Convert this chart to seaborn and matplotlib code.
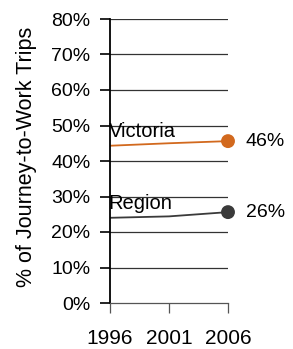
import matplotlib
matplotlib.use("Agg")
import matplotlib.pyplot as plt
import seaborn as sns
import pandas as pd

years = [1996, 2001, 2006]
victoria = [44.3, 45.0, 45.6]
region = [24.0, 24.4, 25.6]
end_labels = ["46%", "26%"]
series_names = ["Victoria", "Region"]
colors = ["#d2691e", "#3a3a3a"]
yticks = [0, 10, 20, 30, 40, 50, 60, 70, 80]

df = pd.DataFrame({"Year": years * 2,
                   "Share": victoria + region,
                   "Series": ["Victoria"] * 3 + ["Region"] * 3})

sns.set_style("white")
plt.rcParams["font.family"] = ["Liberation Sans", "DejaVu Sans"]
plt.rcParams["text.color"] = "black"
plt.rcParams["axes.labelcolor"] = "black"
plt.rcParams["xtick.color"] = "black"
plt.rcParams["ytick.color"] = "black"

fig = plt.figure(figsize=(2.93, 3.49), dpi=100)
ax = fig.add_axes([110 / 293, 1 - 303 / 349, 118 / 293, 284 / 349])

for y in yticks[1:]:
    ax.axhline(y, color="#333333", lw=0.9, zorder=0)

sns.lineplot(data=df, x="Year", y="Share", hue="Series", palette=colors,
             hue_order=series_names, lw=1.3, legend=False, ax=ax)

last = df[df["Year"] == years[-1]]
sns.scatterplot(data=last, x="Year", y="Share", hue="Series", palette=colors,
                hue_order=series_names, s=100, edgecolor="none", legend=False,
                ax=ax, zorder=5, clip_on=False)

vals = [victoria, region]
for name, v, lab in zip(series_names, vals, end_labels):
    ax.text(years[0] - 0.1, v[0] + 1.4, name, fontsize=14.5, ha="left", va="bottom")
    ax.text(years[-1] + 1.5, v[-1], lab, fontsize=14, ha="left", va="center")

ax.set_xlim(years[0], years[-1])
ax.set_ylim(0, 80)
ax.set_yticks(yticks)
ax.set_yticklabels([f"{t}%" for t in yticks], fontsize=14)
ax.set_xticks(years)
ax.set_xticklabels([str(y) for y in years], fontsize=15)
ax.tick_params(axis="y", direction="out", length=7, width=1.2, left=True, pad=7)
ax.tick_params(axis="x", direction="out", length=7, width=0.9, bottom=True,
               pad=12, color="#555555", labelcolor="black")
ax.set_xlabel("")
ax.set_ylabel("% of Journey-to-Work Trips", fontsize=15.5)
ax.yaxis.set_label_coords(-0.62, 0.514)

for s in ["top", "right"]:
    ax.spines[s].set_visible(False)
ax.spines["left"].set_color("black")
ax.spines["left"].set_linewidth(1.3)
ax.spines["bottom"].set_color("#555555")
ax.spines["bottom"].set_linewidth(0.9)

fig.savefig("out.png", dpi=100)
